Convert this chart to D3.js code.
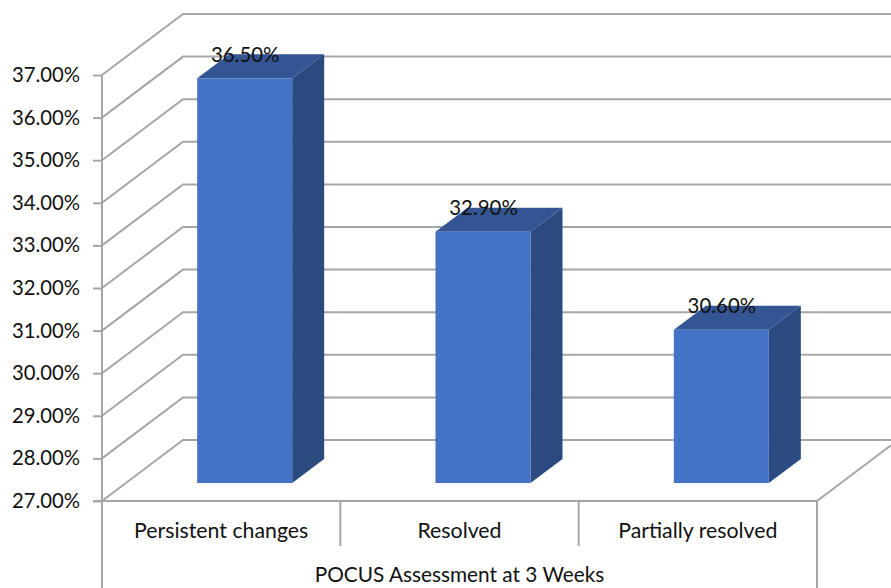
<!DOCTYPE html>
<html>
<head>
<meta charset="utf-8">
<script src="https://cdn.jsdelivr.net/npm/d3@7"></script>
<style>
html,body{margin:0;padding:0;background:#fff;overflow:hidden}
svg{display:block}
text{font-family:Lato,"Open Sans",sans-serif;fill:#111}
</style>
</head>
<body>
<svg id="chart" width="891" height="588"></svg>
<script>
const categories = ["Persistent changes", "Resolved", "Partially resolved"];
const values = [36.5, 32.9, 30.6];
const tickValues = [27, 28, 29, 30, 31, 32, 33, 34, 35, 36, 37];
const axisTitle = "POCUS Assessment at 3 Weeks";

const W = 891, H = 588;
const plot = {left: 102, right: 817, floor: 501, top: 75};
const depth = {dx: 81, dy: 61};        // wall offset from the front plane
const barDepth = {dx: 32, dy: 24};     // depth of each column
const inset = {dx: 23.5, dy: 18};      // column front relative to the front plane
const gridColor = "#a6a6a6";

const svg = d3.select("#chart");
const y = d3.scaleLinear().domain([27, 37]).range([plot.floor, plot.top]);
const x = d3.scaleBand().domain(categories).range([plot.left, plot.right]).paddingInner(0).paddingOuter(0);
const barWidth = 95;

// Back wall and side wall gridlines
const grid = svg.append("g").attr("fill", "none").attr("stroke", gridColor).attr("stroke-width", 2);
grid.selectAll("path").data(tickValues).join("path")
  .attr("d", v => {
    const p = d3.path();
    p.moveTo(plot.left, y(v));
    p.lineTo(plot.left + depth.dx, y(v) - depth.dy);
    p.lineTo(W, y(v) - depth.dy);
    return p.toString();
  });

// Floor's right edge
grid.append("line")
  .attr("x1", plot.right).attr("y1", plot.floor)
  .attr("x2", W).attr("y2", plot.floor - (W - plot.right) * depth.dy / depth.dx);

// Value axis, with the tick labels to its left
const yAxis = d3.axisLeft(y)
  .tickValues(tickValues)
  .tickFormat(v => d3.format(".2f")(v) + "%")
  .tickSize(9)
  .tickPadding(13);
const yG = svg.append("g").attr("transform", `translate(${plot.left},0)`).call(yAxis);
yG.select(".domain").remove();
yG.selectAll(".tick line").attr("stroke", gridColor).attr("stroke-width", 2);
yG.selectAll(".tick text").attr("font-size", 20.3).style("font-family", "Lato,sans-serif").attr("fill", "#111");

// Axis frame below the floor
const frame = svg.append("g").attr("stroke", gridColor).attr("stroke-width", 2).attr("fill", "none");
frame.append("line").attr("x1", plot.left).attr("x2", plot.left).attr("y1", plot.top).attr("y2", H);
frame.append("line").attr("x1", plot.left - 9).attr("x2", plot.right).attr("y1", plot.floor).attr("y2", plot.floor);
frame.append("line").attr("x1", plot.right).attr("x2", plot.right).attr("y1", plot.floor).attr("y2", H);
frame.selectAll(".sep").data(categories.slice(1)).join("line").attr("class", "sep")
  .attr("x1", d => x(d)).attr("x2", d => x(d))
  .attr("y1", plot.floor).attr("y2", 546);

// Columns: each one has a front, top and side face
const barX = c => x(c) + (x.bandwidth() - barWidth) / 2 + inset.dx;
const base = plot.floor - inset.dy;
const barTop = v => y(v) - inset.dy;
const bars = svg.append("g").selectAll("g").data(categories.map((c, i) => ({c, v: values[i]}))).join("g");

bars.append("path").attr("fill", "#2a4a80")
  .attr("d", d => {
    const xr = barX(d.c) + barWidth;
    return `M${xr},${barTop(d.v)}L${xr + barDepth.dx},${barTop(d.v) - barDepth.dy}L${xr + barDepth.dx},${base - barDepth.dy}L${xr},${base}Z`;
  });
bars.append("path").attr("fill", "#335593")
  .attr("d", d => {
    const xl = barX(d.c), t = barTop(d.v);
    return `M${xl},${t}L${xl + barDepth.dx},${t - barDepth.dy}L${xl + barWidth + barDepth.dx},${t - barDepth.dy}L${xl + barWidth},${t}Z`;
  });
bars.append("rect").attr("fill", "#4472c4")
  .attr("x", d => barX(d.c)).attr("width", barWidth)
  .attr("y", d => barTop(d.v)).attr("height", d => base - barTop(d.v));

// Value labels sit across the column tops
bars.append("text")
  .attr("x", d => barX(d.c) + barWidth / 2 + 0.5)
  .attr("y", d => barTop(d.v) - 16.5)
  .attr("text-anchor", "middle")
  .attr("font-size", 20.4)
  .text(d => d3.format(".2f")(d.v) + "%");

// Category labels and axis title
svg.append("g").selectAll("text").data(categories).join("text")
  .attr("x", d => x(d) + x.bandwidth() / 2)
  .attr("y", 538)
  .attr("text-anchor", "middle")
  .attr("font-size", 21.3)
  .text(d => d);

svg.append("text")
  .attr("x", (plot.left + plot.right) / 2)
  .attr("y", 582)
  .attr("text-anchor", "middle")
  .attr("font-size", 20.8)
  .text(axisTitle);
</script>
</body>
</html>
